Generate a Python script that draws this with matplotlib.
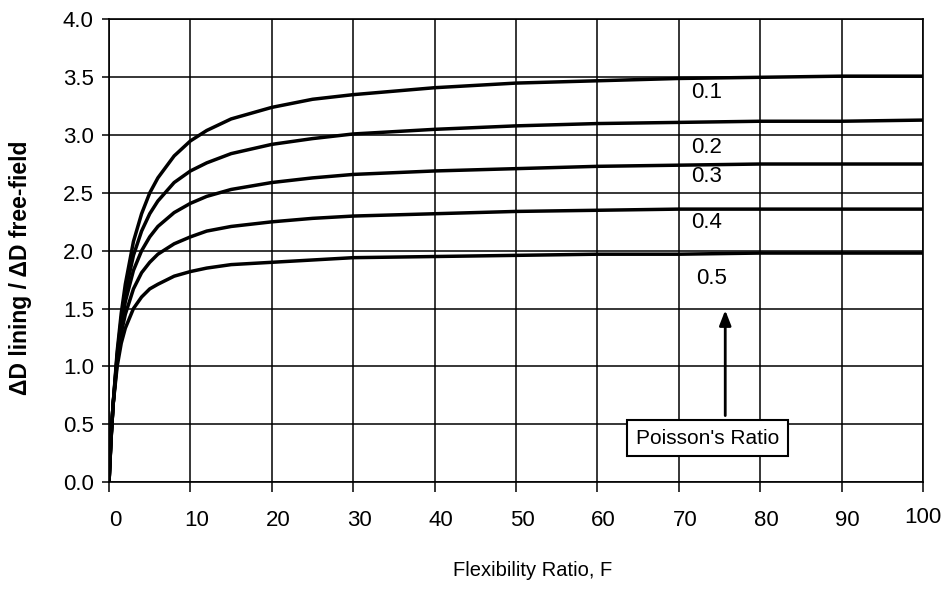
import matplotlib
matplotlib.use("Agg")
import matplotlib.pyplot as plt
from matplotlib import font_manager
from matplotlib.transforms import ScaledTranslation

# Flexibility ratio samples and lining/free-field distortion ratios per Poisson's ratio
flex_ratio = [0, 0.25, 0.5, 1, 1.5, 2, 3, 4, 5, 6, 8, 10, 12, 15, 20, 25, 30, 40, 50, 60, 70, 80, 90, 100]
ratio_nu_01 = [0, 0.37, 0.67, 1.13, 1.46, 1.71, 2.08, 2.32, 2.50, 2.63, 2.82, 2.95, 3.04, 3.14, 3.24, 3.31, 3.35, 3.41, 3.45, 3.47, 3.49, 3.50, 3.51, 3.51]
ratio_nu_02 = [0, 0.37, 0.67, 1.10, 1.41, 1.64, 1.96, 2.17, 2.32, 2.43, 2.59, 2.69, 2.76, 2.84, 2.92, 2.97, 3.01, 3.05, 3.08, 3.10, 3.11, 3.12, 3.12, 3.13]
ratio_nu_03 = [0, 0.38, 0.67, 1.08, 1.35, 1.56, 1.83, 2.00, 2.12, 2.21, 2.33, 2.41, 2.47, 2.53, 2.59, 2.63, 2.66, 2.69, 2.71, 2.73, 2.74, 2.75, 2.75, 2.75]
ratio_nu_04 = [0, 0.39, 0.67, 1.04, 1.29, 1.45, 1.67, 1.81, 1.90, 1.97, 2.06, 2.12, 2.17, 2.21, 2.25, 2.28, 2.30, 2.32, 2.34, 2.35, 2.36, 2.36, 2.36, 2.36]
ratio_nu_05 = [0, 0.40, 0.67, 1.00, 1.20, 1.33, 1.50, 1.60, 1.67, 1.71, 1.78, 1.82, 1.85, 1.88, 1.90, 1.92, 1.94, 1.95, 1.96, 1.97, 1.97, 1.98, 1.98, 1.98]

poisson_labels = ["0.1", "0.2", "0.3", "0.4", "0.5"]
label_pos = [(73.4, 3.37), (73.4, 2.89), (73.4, 2.64), (73.4, 2.24), (74.0, 1.76)]

x_ticks = [0, 10, 20, 30, 40, 50, 60, 70, 80, 90, 100]
y_ticks = [0.0, 0.5, 1.0, 1.5, 2.0, 2.5, 3.0, 3.5, 4.0]

available = {f.name for f in font_manager.fontManager.ttflist}
narrow = "Liberation Sans Narrow" if "Liberation Sans Narrow" in available else "Liberation Sans"
plt.rcParams["font.family"] = [narrow, "DejaVu Sans"]

fig = plt.figure(figsize=(9.44, 5.89), dpi=100)
ax = fig.add_axes([0.1155, 0.1817, 0.8623, 0.7852])

for series in [ratio_nu_01, ratio_nu_02, ratio_nu_03, ratio_nu_04, ratio_nu_05]:
    ax.plot(flex_ratio, series, color="black", lw=2.5, solid_capstyle="butt", zorder=3)

ax.set_xlim(0, 100)
ax.set_ylim(0, 4.0)
ax.set_xticks(x_ticks)
ax.set_yticks(y_ticks)
ax.set_xticklabels([str(t) for t in x_ticks])
ax.set_yticklabels([f"{t:.1f}" for t in y_ticks])
ax.grid(True, color="black", lw=1.1, zorder=1)
for s in ax.spines.values():
    s.set_color("black")
    s.set_linewidth(1.2)
ax.tick_params(axis="x", direction="out", length=7, width=1.1, pad=13, labelsize=16)
ax.tick_params(axis="y", direction="out", length=5, width=1.1, pad=6, labelsize=16)

# x labels sit a little right of their gridlines; the last one is centred and slightly raised
xlabels = ax.get_xticklabels()
for lab in xlabels[:-1]:
    lab.set_transform(lab.get_transform() + ScaledTranslation(0.06, 0, fig.dpi_scale_trans))
xlabels[-1].set_transform(xlabels[-1].get_transform() + ScaledTranslation(0, 0.03, fig.dpi_scale_trans))

for text, (xx, yy) in zip(poisson_labels, label_pos):
    ax.text(xx, yy, text, fontsize=16, ha="center", va="center", zorder=4)

ax.annotate("", xy=(75.7, 1.51), xytext=(75.7, 0.55),
            arrowprops=dict(arrowstyle="-|>,head_length=0.9,head_width=0.35", color="black", lw=2),
            zorder=4)
ax.text(73.5, 0.38, "Poisson's Ratio", fontsize=15, ha="center", va="center", zorder=5,
        bbox=dict(boxstyle="square,pad=0.42", fc="white", ec="black", lw=1.5))

fig.text(0.022, 0.545, "\u0394D lining / \u0394D free-field", rotation=90, fontsize=16.5,
         fontweight="bold", ha="center", va="center", family=["Liberation Sans", "DejaVu Sans"])
fig.text(0.5646, 0.031, "Flexibility Ratio, F", fontsize=14.5, ha="center", va="center")

fig.savefig("out.png", dpi=100)
